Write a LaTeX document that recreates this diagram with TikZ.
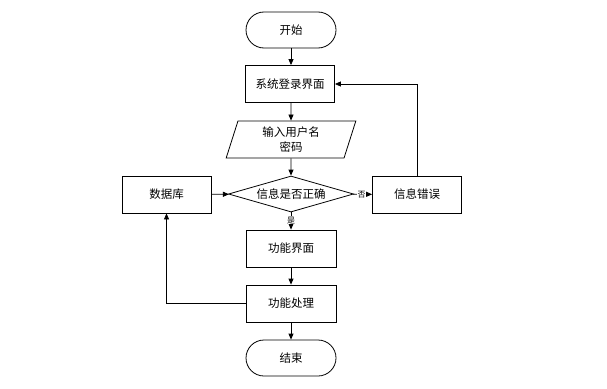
\documentclass[tikz,border=0pt]{standalone}
\usepackage{fontspec}
\setmainfont{Noto Sans CJK SC}
\usetikzlibrary{shapes.geometric,arrows.meta}
\begin{document}
\begin{tikzpicture}[x=1pt,y=-1pt,
  base/.style={draw=black,line width=0.8pt,font=\fontsize{11.5}{14}\selectfont,inner sep=0pt},
  term/.style={base,rounded corners=18pt,minimum width=90pt,minimum height=36pt},
  proc/.style={base,rectangle,minimum width=89pt,minimum height=37pt},
  io/.style={base,trapezium,trapezium left angle=76,trapezium right angle=104,minimum width=130pt,minimum height=37pt,trapezium stretches=true,align=center},
  dec/.style={base,diamond,minimum width=125pt,minimum height=36pt,aspect=3.4},
  arr/.style={draw=black,line width=0.8pt,-{Triangle[length=6pt,width=5pt]}},
  lab/.style={fill=white,inner sep=0.5pt,font=\fontsize{8}{9}\selectfont}]
\useasboundingbox (0,0) rectangle (607,388);
\node[term] (start) at (291,30) {开始};
\node[proc] (login) at (290,84) {系统登录界面};
\node[io] (input) at (291,139.5) {输入用户名\\[1pt]密码};
\node[dec] (check) at (291,194) {信息是否正确};
\node[proc] (db) at (166.5,194.5) {数据库};
\node[proc] (err) at (417,194.5) {信息错误};
\node[proc,minimum width=90pt] (func) at (291,248.5) {功能界面};
\node[proc,minimum width=90pt] (proc) at (291,303.5) {功能处理};
\node[term] (stop) at (291,358) {结束};
\draw[arr] (start) -- (login.north -| start);
\draw[arr] (login.south -| input) -- (input);
\draw[arr] (input) -- (check);
\draw[arr] (db) -- (check);
\draw[arr] (check) -- node[lab,pos=0.45]{否} (err);
\draw[arr] (check) -- node[lab,pos=0.45]{是} (func);
\draw[arr] (func) -- (proc);
\draw[arr] (proc) -- (stop);
\draw[arr] (err.north) |- (login.east);
\draw[arr] (proc.west) -| (db.south);
\end{tikzpicture}
\end{document}
